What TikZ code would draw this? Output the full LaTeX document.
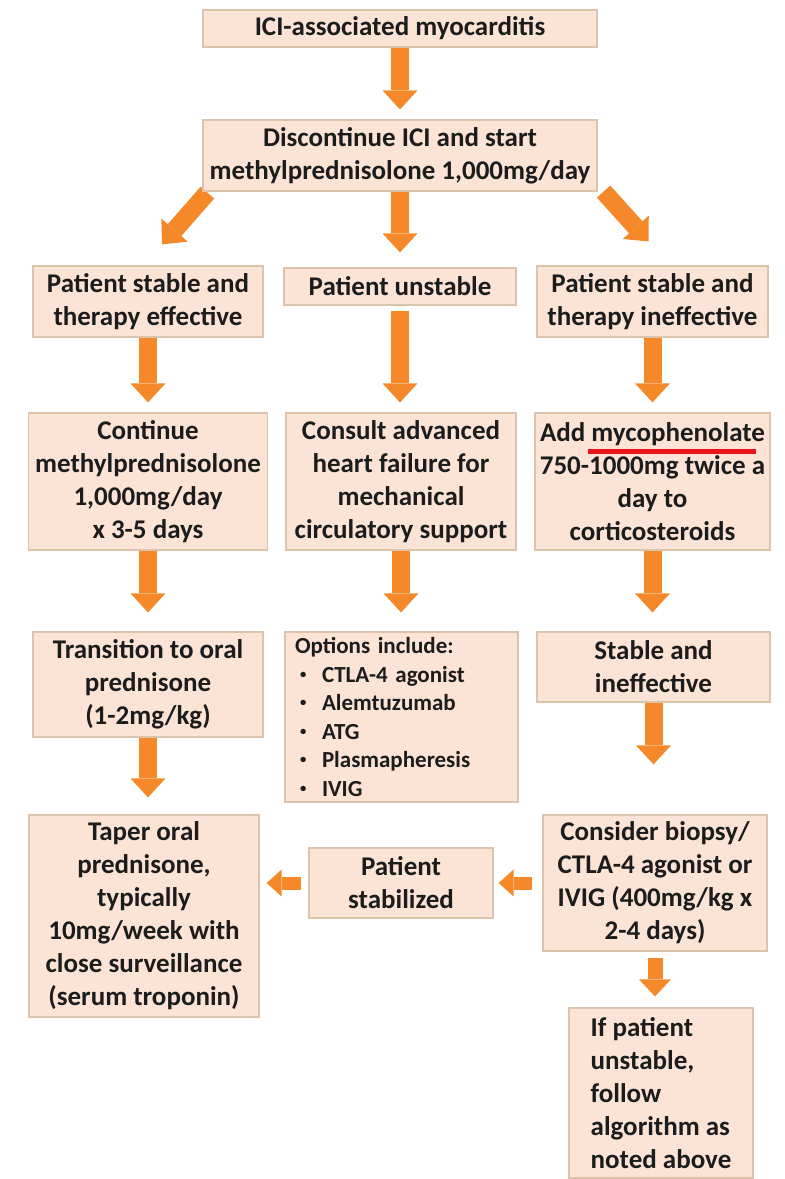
\documentclass[tikz,border=0pt]{standalone}
\usepackage{fontspec}
\setmainfont{Carlito}
\usetikzlibrary{arrows.meta,backgrounds}
\definecolor{boxfill}{HTML}{FBE4D5}
\definecolor{boxline}{HTML}{DDC2AC}
\definecolor{arrowc}{HTML}{F5892A}
\definecolor{txt}{HTML}{1C1C1C}
\definecolor{ulred}{HTML}{E8141A}
\tikzset{
  box/.style={draw=boxline,line width=0.6pt,fill=boxfill,inner sep=0pt,align=center,text=txt,
    font=\fontsize{13.5pt}{16.5pt}\selectfont\bfseries},
  bigarrow/.style={draw=arrowc,line width=9pt,-{Triangle[width=17.5pt,length=9.5pt,line width=0pt]}},
  midarrow/.style={draw=arrowc,line width=7.5pt,-{Triangle[width=16pt,length=8.5pt,line width=0pt]}},
  smallarrow/.style={draw=arrowc,line width=6.5pt,-{Triangle[width=13.5pt,length=7.5pt,line width=0pt]}},
  optfont/.style={font=\fontsize{11.5pt}{14.25pt}\selectfont\bfseries}
}
\newcommand{\bul}{\makebox[13.5pt][l]{\hspace{2.5pt}\raisebox{0.35ex}{\scalebox{0.55}{•}}}}
\begin{document}
\begin{tikzpicture}[x=0.5pt,y=-0.5pt]
\useasboundingbox (0,0) rectangle (785,1179);

% row 1-2
\node[box,minimum width=197pt,minimum height=18.5pt] (top) at (400,28.5) {ICI-associated myocarditis};
\node[box,minimum width=197pt,minimum height=35.5pt] (disc) at (400,155.5) {Discontinue ICI and start\\methylprednisolone 1,000mg/day};

% row 3
\node[box,minimum width=115pt,minimum height=35.5pt] (stableEff) at (148,301.5) {Patient stable and\\therapy effective};
\node[box,minimum width=116pt,minimum height=18.5pt] (unstable) at (400,286.5) {Patient unstable};
\node[box,minimum width=115.5pt,minimum height=35.5pt] (stableIneff) at (652.5,301.5) {Patient stable and\\therapy ineffective};

% row 4
\node[box,minimum width=119.5pt,minimum height=68.5pt] (cont) at (148,481.5) {Continue\\methylprednisolone\\1,000mg/day\\x 3-5 days};
\node[box,minimum width=115pt,minimum height=68.5pt] (consult) at (401,481.5) {Consult advanced\\heart failure for\\mechanical\\circulatory support};
\node[box,minimum width=117.5pt,minimum height=68.5pt] (add) at (652.5,481.5) {Add \makebox[0pt][l]{\hspace{-1.5pt}\smash{\color{ulred}\rule[-6.5pt]{84pt}{2.5pt}}}mycophenolate\\750-1000mg twice a\\day to\\corticosteroids};

% row 5
\node[box,minimum width=115pt,minimum height=52.5pt] (trans) at (148,684.5) {Transition to oral\\prednisone\\(1-2mg/kg)};
\node[box,optfont,align=left,text width=106.5pt,inner xsep=5pt,minimum height=85pt] (options) at (401.5,717) {Options include:\\\bul CTLA-4 agonist\\\bul Alemtuzumab\\\bul ATG\\\bul Plasmapheresis\\\bul IVIG};
\node[box,minimum width=116.5pt,minimum height=35pt] (stabIneff2) at (653.5,667) {Stable and\\ineffective};

% row 6
\node[box,minimum width=115pt,minimum height=101pt] (taper) at (144,916) {Taper oral\\prednisone,\\typically\\10mg/week with\\close surveillance\\(serum troponin)};
\node[box,minimum width=92pt,minimum height=35pt] (stabilized) at (401,883) {Patient\\stabilized};
\node[box,minimum width=112pt,minimum height=68pt] (consider) at (655,883) {Consider biopsy/\\CTLA-4 agonist or\\IVIG (400mg/kg x\\2-4 days)};

% row 7
\node[box,align=left,minimum width=92pt,minimum height=85pt] (ifunst) at (661,1093) {If patient\\unstable,\\follow\\algorithm as\\noted above};

\begin{scope}[on background layer]
\fill[white] (0,0) rectangle (785,1179);
% main trunk
\draw[bigarrow] (top.south) -- ([shift={(0,-10)}]disc.north);
\draw[bigarrow] ([shift={(5,1)}]disc.south west) -- ([shift={(14,-21)}]stableEff.north);
\draw[bigarrow] (disc.south) -- ([shift={(0,-15)}]disc.south |- unstable.north);
\draw[bigarrow] ([shift={(6,0)}]disc.south east) -- ([shift={(-4,-24)}]stableIneff.north);
% row 3 -> 4
\draw[bigarrow] (stableEff.south) -- ([shift={(0,-10)}]stableEff.south |- cont.north);
\draw[bigarrow] ([shift={(0,5)}]unstable.south) -- ([shift={(0,-10)}]unstable.south |- consult.north);
\draw[bigarrow] (stableIneff.south) -- ([shift={(0,-10)}]stableIneff.south |- add.north);
% row 4 -> 5
\draw[bigarrow] (cont.south) -- ([shift={(0,-19)}]cont.south |- trans.north);
\draw[bigarrow] (consult.south) -- ([shift={(0,-19)}]consult.south |- options.north);
\draw[bigarrow] (add.south) -- ([shift={(0,-19)}]add.south |- stabIneff2.north);
% row 5 -> 6
\draw[bigarrow] (trans.south) -- ([shift={(0,-17)}]trans.south |- taper.north);
\draw[bigarrow] (stabIneff2.south) -- ([shift={(0,-50)}]stabIneff2.south |- consider.north);
% horizontal
\draw[smallarrow] ([shift={(-10,0)}]consider.west) -- ([shift={(5,0)}]stabilized.east |- consider.west);
\draw[smallarrow] ([shift={(-7,0)}]stabilized.west) -- ([shift={(7,0)}]taper.east |- stabilized.west);
% last
\draw[midarrow] ([shift={(0,6)}]consider.south) -- ([shift={(0,-11)}]consider.south |- ifunst.north);
\end{scope}
\end{tikzpicture}
\end{document}
